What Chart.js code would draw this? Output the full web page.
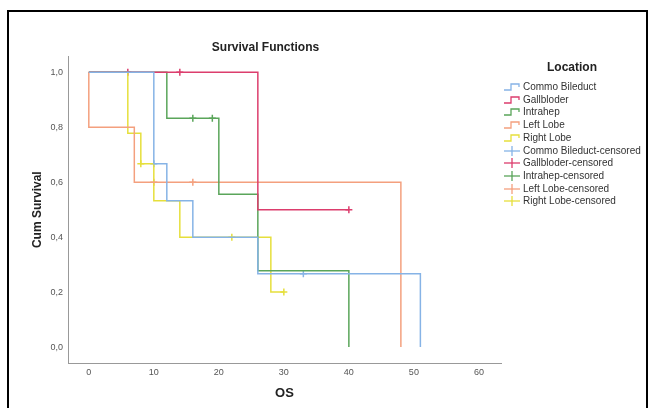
<!DOCTYPE html>
<html>
<head>
<meta charset="utf-8">
<script src="https://cdn.jsdelivr.net/npm/chart.js@4.4.1/dist/chart.umd.min.js"></script>
<style>
  body { margin: 0; background: #fff; font-family: "Liberation Sans", Arial, sans-serif; }
  #wrap { position: relative; width: 648px; height: 408px; overflow: hidden; }
  #frame { position: absolute; left: 7px; top: 10px; width: 637px; height: 420px; border: 2px solid #000; }
  #km { position: absolute; left: 0; top: 0; }
  #legend { position: absolute; left: 0; top: 0; width: 648px; height: 408px; pointer-events: none; }
  .lg-title { position: absolute; left: 522px; width: 100px; top: 60px; text-align: center; font-weight: bold; font-size: 12px; color: #222; }
  .lg-item { position: absolute; left: 504px; height: 12px; font-size: 10px; line-height: 12px; color: #333; white-space: nowrap; }
  .lg-item svg { position: absolute; left: 0; top: 1px; }
  .lg-item span { position: absolute; left: 19px; top: 0; }
</style>
</head>
<body>
<div id="wrap">
  <div id="frame"></div>
  <canvas id="km" width="548" height="408"></canvas>
  <div id="legend"><div class="lg-title">Location</div></div>
</div>
<script>
// --- data ---
const xTicks = [0, 10, 20, 30, 40, 50, 60];
const yTicks = [0, 0.2, 0.4, 0.6, 0.8, 1.0];

const groups = ['Commo Bileduct', 'Gallbloder', 'Intrahep', 'Left Lobe', 'Right Lobe'];
const groupColors = ['#86b3e6', '#dc3d6d', '#5aa55a', '#f4a07e', '#e6df3c'];

// survival steps (time, cumulative survival after the event)
const commoTime = [0, 10, 12, 16, 26, 51];
const commoSurv = [1, 0.667, 0.533, 0.4, 0.267, 0];
const gallTime = [0, 26, 40];
const gallSurv = [1, 0.5, 0.5];
const intraTime = [0, 12, 20, 26, 40];
const intraSurv = [1, 0.833, 0.556, 0.278, 0];
const leftTime = [0, 0, 7, 48];
const leftSurv = [1, 0.8, 0.6, 0];
const rightTime = [0, 6, 8, 10, 14, 28, 30];
const rightSurv = [1, 0.778, 0.667, 0.533, 0.4, 0.2, 0.2];

// censored cases
const commoCensTime = [10, 33];
const commoCensSurv = [0.667, 0.267];
const gallCensTime = [6, 14, 40];
const gallCensSurv = [1, 1, 0.5];
const intraCensTime = [16, 19];
const intraCensSurv = [0.833, 0.833];
const leftCensTime = [10, 16];
const leftCensSurv = [0.6, 0.6];
const rightCensTime = [8, 22, 30];
const rightCensSurv = [0.667, 0.4, 0.2];

const stepTimes = [commoTime, gallTime, intraTime, leftTime, rightTime];
const stepSurvs = [commoSurv, gallSurv, intraSurv, leftSurv, rightSurv];
const censTimes = [commoCensTime, gallCensTime, intraCensTime, leftCensTime, rightCensTime];
const censSurvs = [commoCensSurv, gallCensSurv, intraCensSurv, leftCensSurv, rightCensSurv];

const pts = (t, s) => t.map((x, i) => ({ x: x, y: s[i] }));

const datasets = [];
groups.forEach((g, i) => {
  datasets.push({
    label: g,
    data: pts(stepTimes[i], stepSurvs[i]),
    showLine: true,
    stepped: true,
    borderColor: groupColors[i],
    borderWidth: 1.5,
    pointRadius: 0,
    fill: false
  });
});
groups.forEach((g, i) => {
  datasets.push({
    label: g + '-censored',
    data: pts(censTimes[i], censSurvs[i]),
    showLine: false,
    pointStyle: 'cross',
    pointRadius: 3.5,
    borderColor: groupColors[i],
    borderWidth: 1.5
  });
});

const FONT = '"Liberation Sans", Arial, sans-serif';

new Chart(document.getElementById('km'), {
  type: 'scatter',
  data: { datasets: datasets },
  options: {
    responsive: false,
    animation: false,
    layout: { padding: { left: 30, right: 47, top: 0, bottom: 0 } },
    plugins: {
      legend: { display: false },
      tooltip: { enabled: false },
      title: {
        display: true,
        text: 'Survival Functions',
        color: '#222',
        font: { family: FONT, size: 12, weight: 'bold' },
        padding: { top: 40, bottom: 2 }
      }
    },
    scales: {
      x: {
        type: 'linear',
        min: -3.2,
        max: 63.4,
        afterBuildTicks: s => { s.ticks = xTicks.map(v => ({ value: v })); },
        afterFit: s => { s.height = 45; },
        grid: { display: true, drawOnChartArea: false, drawTicks: false },
        border: { display: true, color: '#999', width: 1 },
        ticks: { color: '#555', padding: 4, font: { family: FONT, size: 9 }, callback: v => String(v) },
        title: { display: true, text: 'OS', color: '#222', font: { family: FONT, size: 13, weight: 'bold' }, padding: { top: 0, bottom: 7 } }
      },
      y: {
        type: 'linear',
        min: -0.058,
        max: 1.058,
        afterBuildTicks: s => { s.ticks = yTicks.map(v => ({ value: v })); },
        afterFit: s => { s.width = 38; },
        grid: { display: true, drawOnChartArea: false, drawTicks: false },
        border: { display: true, color: '#999', width: 1 },
        ticks: { color: '#555', padding: 5, font: { family: FONT, size: 9 }, callback: v => v.toFixed(1).replace('.', ',') },
        title: { display: true, text: 'Cum Survival', color: '#222', font: { family: FONT, size: 12, weight: 'bold' }, padding: { top: 0, bottom: 0 } }
      }
    }
  }
});

// --- legend (SPSS style) ---
const legendEl = document.getElementById('legend');
const legendLabels = groups.concat(groups.map(g => g + '-censored'));
legendLabels.forEach((label, i) => {
  const color = groupColors[i % groups.length];
  const icon = i < groups.length
    ? '<polyline points="0,8 7,8 7,2 15,2 15,5" fill="none" stroke="' + color + '" stroke-width="1.3"/>'
    : '<line x1="0" y1="5" x2="16" y2="5" stroke="' + color + '" stroke-width="1.3"/><line x1="8" y1="0" x2="8" y2="10" stroke="' + color + '" stroke-width="1.3"/>';
  const item = document.createElement('div');
  item.className = 'lg-item';
  item.style.top = (81 + i * 12.7) + 'px';
  item.innerHTML = '<svg width="16" height="10">' + icon + '</svg><span>' + label + '</span>';
  legendEl.appendChild(item);
});
</script>
</body>
</html>
